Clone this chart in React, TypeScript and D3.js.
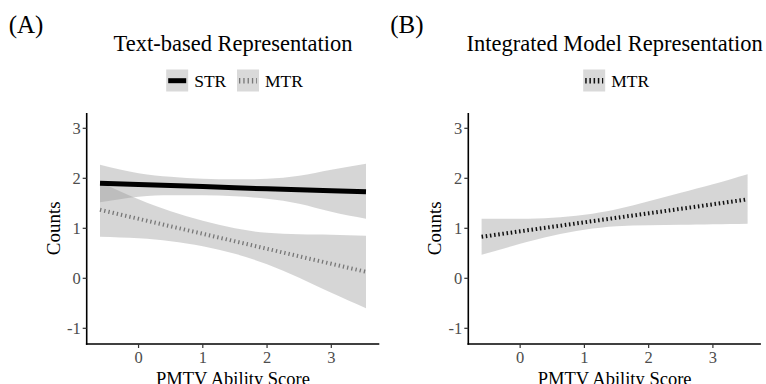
import React from 'react';
import * as d3 from 'd3';

// x positions where the fitted lines and bands were read
const xs = [-0.6, 0, 0.5, 1, 1.5, 2, 2.5, 3, 3.54];

// Panel A: Text-based Representation
const strFit = [1.9, 1.875, 1.855, 1.835, 1.81, 1.79, 1.77, 1.75, 1.73];
const strUpper = [2.27, 2.1, 2.03, 1.99, 1.98, 1.99, 2.05, 2.17, 2.29];
const strLower = [1.52, 1.63, 1.66, 1.66, 1.64, 1.59, 1.49, 1.33, 1.19];
const mtrFitA = [1.37, 1.19, 1.04, 0.89, 0.74, 0.59, 0.44, 0.29, 0.13];
const mtrUpperA = [1.92, 1.58, 1.34, 1.15, 1.0, 0.91, 0.88, 0.87, 0.85];
const mtrLowerA = [0.83, 0.8, 0.74, 0.64, 0.49, 0.28, 0.01, -0.29, -0.6];

// Panel B: Integrated Model Representation
const mtrFitB = [0.83, 0.94, 1.03, 1.12, 1.21, 1.3, 1.39, 1.48, 1.58];
const mtrUpperB = [1.19, 1.19, 1.21, 1.27, 1.38, 1.54, 1.71, 1.88, 2.08];
const mtrLowerB = [0.47, 0.69, 0.85, 0.97, 1.04, 1.06, 1.07, 1.08, 1.09];

const xTicks = [0, 1, 2, 3];
const yTicks = [-1, 0, 1, 2, 3];

const FONT = '"Liberation Serif", "Times New Roman", serif';
const BAND = '#999999';

type Series = {
  name: string;
  fit: number[];
  upper: number[];
  lower: number[];
  color: string;
  width: number;
  dash?: string;
};

const Panel = ({ left, tag, title, series }: { left: number; tag: string; title: string; series: Series[] }) => {
  const x = d3.scaleLinear().domain([-0.807, 3.747]).range([left, left + 292.6]);
  const y = d3.scaleLinear().domain([-1.314, 3.306]).range([344, 113]);

  const band = (s: Series) =>
    d3.area<number>()
      .x((_, i) => x(xs[i]))
      .y0((_, i) => y(s.lower[i]))
      .y1((_, i) => y(s.upper[i]))
      .curve(d3.curveNatural)(s.fit) || '';

  const line = d3.line<number>()
    .x((_, i) => x(xs[i]))
    .y(d => y(d));

  const cx = (x.range()[0] + x.range()[1]) / 2;

  // legend layout
  const keyW = 22;
  const gap = 6;
  const itemW = series.map(s => keyW + gap + s.name.length * 11.6);
  const legendW = d3.sum(itemW) + (series.length - 1) * 8;
  let lx = cx - legendW / 2;

  return (
    <g>
      <text x={left - 78} y={33} fontSize={25} fontFamily={FONT}>{tag}</text>
      <text x={cx} y={51} fontSize={22.5} fontFamily={FONT} textAnchor="middle">{title}</text>

      {series.map((s, i) => {
        const x0 = lx;
        lx += itemW[i] + 8;
        return (
          <g key={s.name}>
            <rect x={x0} y={69.5} width={keyW} height={22} fill="#d9d9d9" />
            <line x1={x0 + 2} x2={x0 + keyW - 2} y1={80.7} y2={80.7}
              stroke={s.color} strokeWidth={s.dash ? 5.5 : 5} strokeDasharray={s.dash} />
            <text x={x0 + keyW + gap} y={87} fontSize={17.5} fontFamily={FONT}>{s.name}</text>
          </g>
        );
      })}

      {series.map(s => (
        <path key={'b' + s.name} d={band(s)} fill={BAND} fillOpacity={0.4} />
      ))}
      {series.map(s => (
        <path key={'l' + s.name} d={line(s.fit) || ''} fill="none" stroke={s.color}
          strokeWidth={s.width} strokeDasharray={s.dash} />
      ))}

      {/* axes */}
      <line x1={left} x2={left} y1={113} y2={344.8} stroke="#000" strokeWidth={1.6} />
      <line x1={left - 0.8} x2={x.range()[1]} y1={344} y2={344} stroke="#000" strokeWidth={1.6} />
      {yTicks.map(t => (
        <g key={'y' + t}>
          <line x1={left - 4} x2={left} y1={y(t)} y2={y(t)} stroke="#333" strokeWidth={1.2} />
          <text x={left - 6} y={y(t)} dy="0.35em" textAnchor="end" fontSize={16.5}
            fontFamily={FONT} fill="#4d4d4d">{t}</text>
        </g>
      ))}
      {xTicks.map(t => (
        <g key={'x' + t}>
          <line x1={x(t)} x2={x(t)} y1={344} y2={348} stroke="#333" strokeWidth={1.2} />
          <text x={x(t)} y={363} textAnchor="middle" fontSize={16.5}
            fontFamily={FONT} fill="#4d4d4d">{t}</text>
        </g>
      ))}
      <text transform={`translate(${left - 27},${y(1)}) rotate(-90)`} textAnchor="middle"
        fontSize={19} fontFamily={FONT}>Counts</text>
      <text x={cx} y={385} textAnchor="middle" fontSize={18.5} fontFamily={FONT}>PMTV Ability Score</text>
    </g>
  );
};

export default function App() {
  const seriesA: Series[] = [
    { name: 'STR', fit: strFit, upper: strUpper, lower: strLower, color: '#000', width: 5 },
    { name: 'MTR', fit: mtrFitA, upper: mtrUpperA, lower: mtrLowerA, color: '#777', width: 4, dash: '1.3 3' },
  ];
  const seriesB: Series[] = [
    { name: 'MTR', fit: mtrFitB, upper: mtrUpperB, lower: mtrLowerB, color: '#111', width: 4, dash: '1.5 2.7' },
  ];
  return (
    <div style={{ position: 'fixed', left: 0, top: 0 }}>
      <svg width={766} height={384} style={{ display: 'block', background: '#fff' }}>
        <Panel left={86.7} tag="(A)" title="Text-based Representation" series={seriesA} />
        <Panel left={468.3} tag="(B)" title="Integrated Model Representation" series={seriesB} />
      </svg>
    </div>
  );
}
